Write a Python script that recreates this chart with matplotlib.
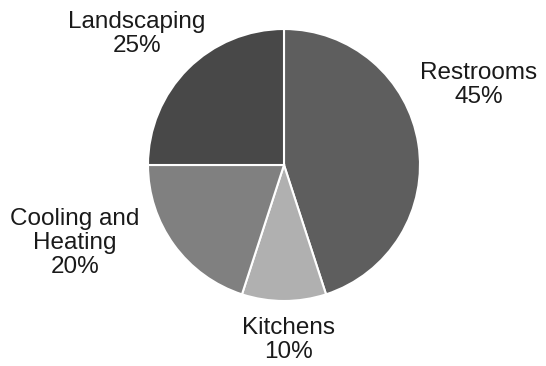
import matplotlib.pyplot as plt

# Share of water use by area
labels = ["Restrooms", "Kitchens", "Cooling and\nHeating", "Landscaping"]
shares = [45, 10, 20, 25]
colors = ["#5e5e5e", "#b0b0b0", "#808080", "#484848"]

# label anchor positions in pixels (x, y from top)
label_pos = [(479, 85), (288, 340), (75, 243), (137, 34)]

fig = plt.figure(figsize=(5.46, 3.66), dpi=100)
ax = fig.add_axes([0, 0, 1, 1])

ax.pie(shares, colors=colors, startangle=90, counterclock=False,
       center=(284, 366 - 165), radius=136, frame=True,
       wedgeprops=dict(edgecolor="white", linewidth=1.5))
ax.set_xlim(0, 546)
ax.set_ylim(0, 366)
ax.axis("off")

for lab, val, (x, y) in zip(labels, shares, label_pos):
    ax.text(x, 366 - y, f"{lab}\n{val}%", ha="center", va="center",
            fontsize=17.5, color="#1a1a1a", family="Liberation Sans",
            linespacing=1.12)

fig.savefig("out.png", dpi=100)
